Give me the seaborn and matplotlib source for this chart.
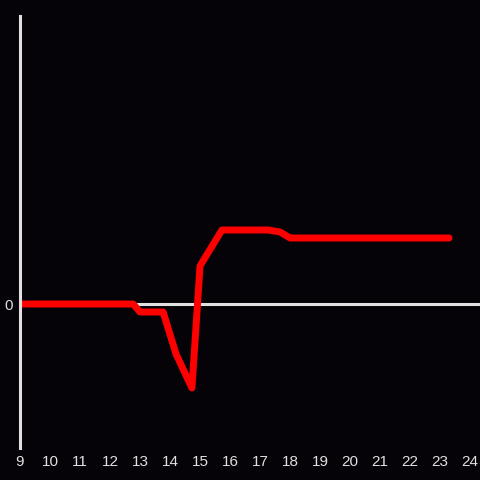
import matplotlib
matplotlib.use('Agg')
import matplotlib.pyplot as plt
import seaborn as sns
import pandas as pd

# hour of day vs. change (arbitrary units)
hours = [9.0, 12.77, 13.0, 13.77, 14.2, 14.73, 15.0, 15.2, 15.73, 17.27, 17.67, 18.0, 23.3]
change = [0, 0, -8, -8, -50, -84, 38, 48, 74, 74, 72, 66, 66]
xticks = list(range(9, 25))

bg = '#050307'
grey = '#e0e0e0'

sns.set_style('dark', rc={'axes.facecolor': bg, 'figure.facecolor': bg})
plt.rcParams['font.family'] = ['Liberation Sans', 'DejaVu Sans']

df = pd.DataFrame({'hour': hours, 'change': change})

fig = plt.figure(figsize=(4.8, 4.8), dpi=100)
ax = fig.add_axes([20 / 480, 32 / 480, 460 / 480, 432 / 480])

ax.axhline(0, color=grey, lw=2.2, zorder=1)
sns.lineplot(data=df, x='hour', y='change', ax=ax, color='#ff0000', lw=5, zorder=2)

ax.set_xlim(9, 24.33)
ax.set_ylim(-144, 288)
ax.set_xticks(xticks)
ax.set_yticks([0])
ax.tick_params(length=0, colors=grey, labelsize=11, pad=5)
ax.set(xlabel='', ylabel='')
ax.grid(False)

for side in ['top', 'right', 'bottom']:
    ax.spines[side].set_visible(False)
ax.spines['left'].set_color(grey)
ax.spines['left'].set_linewidth(2.2)

fig.savefig('out.png', dpi=100, facecolor=bg)
